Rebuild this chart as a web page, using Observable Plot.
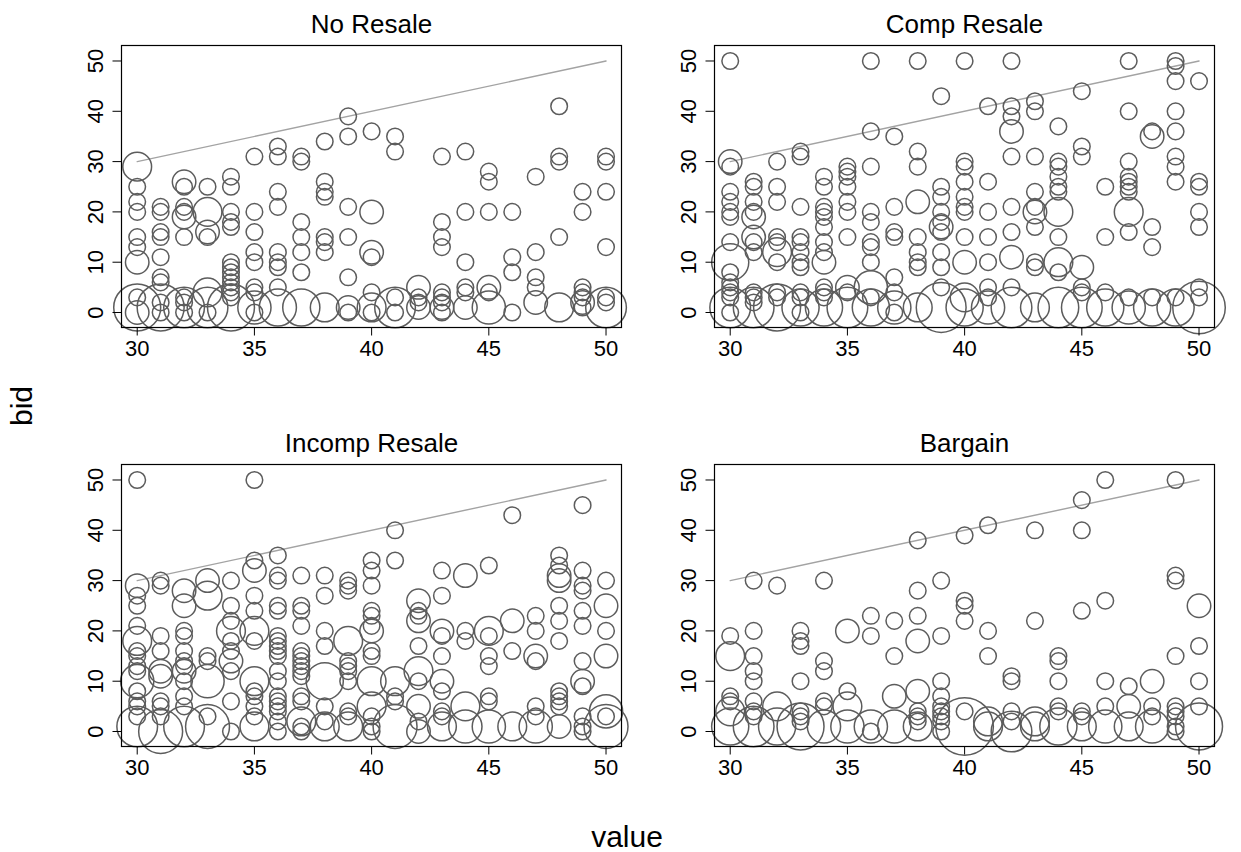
<!DOCTYPE html>
<html><head><meta charset="utf-8">
<script src="https://cdn.jsdelivr.net/npm/d3@7"></script>
<script src="https://cdn.jsdelivr.net/npm/@observablehq/plot@0.6"></script>
<style>
body{margin:0;background:#fff;}
#chart{position:relative;width:1241px;height:852px;overflow:hidden;font-family:"Liberation Sans",Arial,sans-serif;background:#fff;}
.panel{position:absolute;}
.lab{position:absolute;font-size:30px;line-height:1;white-space:nowrap;color:#000;}
</style></head><body><div id="chart"></div>
<script>
const panelTitles = ["No Resale", "Comp Resale", "Incomp Resale", "Bargain"];
const xTicks = [30, 35, 40, 45, 50];
const yTicks = [0, 10, 20, 30, 40, 50];
const refLine = [30, 50]; // bid = value diagonal
const xLabel = "value";
const yLabel = "bid";

// [value, bid, count]
const noResale = [
[30,29,3],[30,25,1],[30,22,1],[30,20,1],[30,15,1],[30,13,1],[30,10,2],[30,3,1],[30,1,8],[30,0,2],
[31,21,1],[31,20,1],[31,16,1],[31,15,1],[31,11,1],[31,7,1],[31,6,1],[31,2,1],[31,1,8],[31,0,1],
[32,26,2],[32,25,1],[32,21,1],[32,20,1],[32,19,2],[32,15,1],[32,3,1],[32,2,1],[32,1,6],[32,0,1],
[33,25,1],[33,20,3],[33,16,2],[33,15,1],[33,4,3],[33,1,6],[33,0,1],
[34,27,1],[34,25,1],[34,20,1],[34,18,1],[34,17,1],[34,10,1],[34,9,1],[34,8,1],[34,7,1],[34,6,1],[34,5,1],[34,4,1],[34,3,1],[34,1,8],
[35,31,1],[35,20,1],[35,16,1],[35,12,1],[35,10,1],[35,5,1],[35,4,1],[35,1,4],[35,0,1],
[36,33,1],[36,31,1],[36,24,1],[36,21,1],[36,12,1],[36,10,1],[36,9,1],[36,5,1],[36,1,5],
[37,31,1],[37,30,1],[37,18,1],[37,15,1],[37,12,1],[37,8,1],[37,1,5],
[38,34,1],[38,26,1],[38,24,1],[38,23,1],[38,15,1],[38,14,1],[38,12,1],[38,1,3],
[39,39,1],[39,35,1],[39,21,1],[39,15,1],[39,7,1],[39,1,2],[39,0,1],
[40,36,1],[40,20,2],[40,12,2],[40,11,1],[40,4,1],[40,1,3],[40,0,1],
[41,35,1],[41,32,1],[41,3,1],[41,1,6],[41,0,1],
[42,5,2],[42,3,1],[42,2,1],[42,1,2],
[43,31,1],[43,18,1],[43,15,1],[43,13,1],[43,4,1],[43,3,1],[43,2,1],[43,1,2],[43,0,1],
[44,32,1],[44,20,1],[44,10,1],[44,5,1],[44,4,1],[44,1,2],
[45,28,1],[45,26,1],[45,20,1],[45,5,2],[45,4,1],[45,1,4],
[46,20,1],[46,11,1],[46,8,1],[46,0,1],
[47,27,1],[47,12,1],[47,7,1],[47,5,1],[47,2,2],
[48,41,1],[48,31,1],[48,30,1],[48,15,1],[48,1,3],
[49,24,1],[49,20,1],[49,5,1],[49,4,1],[49,3,1],[49,2,2],[49,1,1],
[50,31,1],[50,30,1],[50,24,1],[50,13,1],[50,3,1],[50,2,1],[50,1,6]
];

const compResale = [
[30,50,1],[30,30,2],[30,29,1],[30,24,1],[30,22,1],[30,20,1],[30,19,1],[30,14,1],[30,10,5],[30,8,1],[30,6,1],[30,5,1],[30,4,1],[30,3,1],[30,1,6],[30,0,1],
[31,26,1],[31,25,1],[31,22,1],[31,20,1],[31,19,2],[31,15,2],[31,14,1],[31,12,1],[31,4,1],[31,3,1],[31,2,1],[31,1,6],
[32,30,1],[32,25,1],[32,22,1],[32,15,1],[32,14,1],[32,12,3],[32,10,1],[32,4,1],[32,3,1],[32,1,8],
[33,32,1],[33,31,1],[33,21,1],[33,15,1],[33,14,1],[33,12,1],[33,10,1],[33,9,1],[33,4,1],[33,3,1],[33,1,5],[33,0,1],
[34,27,1],[34,25,1],[34,21,1],[34,20,1],[34,19,1],[34,17,1],[34,14,1],[34,12,1],[34,10,2],[34,5,1],[34,4,1],[34,3,1],[34,1,5],
[35,29,1],[35,28,1],[35,27,1],[35,25,1],[35,22,1],[35,20,1],[35,15,1],[35,5,2],[35,4,1],[35,1,6],
[36,50,1],[36,36,1],[36,29,1],[36,20,1],[36,18,1],[36,14,1],[36,13,1],[36,10,1],[36,5,4],[36,3,1],[36,1,5],
[37,35,1],[37,21,1],[37,16,1],[37,15,1],[37,7,1],[37,4,1],[37,1,4],[37,0,1],
[38,50,1],[38,32,1],[38,29,1],[38,22,2],[38,15,1],[38,12,1],[38,10,1],[38,9,1],[38,1,3],
[39,43,1],[39,25,1],[39,23,1],[39,20,1],[39,18,1],[39,17,2],[39,16,1],[39,12,1],[39,9,1],[39,5,1],[39,1,9],
[40,50,1],[40,30,1],[40,29,1],[40,26,1],[40,23,1],[40,21,1],[40,20,1],[40,15,1],[40,10,2],[40,3,3],[40,1,5],
[41,41,1],[41,26,1],[41,20,1],[41,15,1],[41,10,1],[41,5,1],[41,3,1],[41,1,4],
[42,50,1],[42,41,1],[42,39,1],[42,36,2],[42,31,1],[42,21,1],[42,16,1],[42,11,2],[42,5,1],[42,1,6],
[43,42,1],[43,40,1],[43,31,1],[43,24,1],[43,21,1],[43,20,2],[43,17,1],[43,10,1],[43,9,1],[43,1,3],
[44,37,1],[44,30,1],[44,29,1],[44,27,1],[44,25,1],[44,24,1],[44,20,3],[44,15,1],[44,10,3],[44,8,1],[44,1,6],
[45,44,1],[45,33,1],[45,31,1],[45,9,2],[45,5,1],[45,4,1],[45,1,6],
[46,25,1],[46,15,1],[46,4,1],[46,1,5],
[47,50,1],[47,40,1],[47,30,1],[47,27,1],[47,26,1],[47,25,1],[47,24,1],[47,20,3],[47,16,1],[47,3,1],[47,1,4],
[48,36,1],[48,35,2],[48,17,1],[48,13,1],[48,3,1],[48,1,5],
[49,50,1],[49,49,1],[49,46,1],[49,40,1],[49,36,1],[49,31,1],[49,29,1],[49,26,1],[49,3,1],[49,1,5],
[50,46,1],[50,26,1],[50,25,1],[50,20,1],[50,17,1],[50,5,1],[50,3,1],[50,1,10]
];

const incompResale = [
[30,50,1],[30,29,2],[30,27,1],[30,25,1],[30,21,1],[30,18,3],[30,16,1],[30,15,1],[30,13,1],[30,12,1],[30,10,4],[30,8,1],[30,6,1],[30,5,1],[30,3,1],[30,1,6],
[31,30,1],[31,29,1],[31,19,1],[31,16,1],[31,12,2],[31,11,2],[31,6,1],[31,5,1],[31,3,1],[31,0,7],
[32,28,2],[32,25,2],[32,20,1],[32,19,1],[32,16,1],[32,14,1],[32,13,1],[32,12,2],[32,10,1],[32,7,1],[32,5,1],[32,1,6],
[33,30,2],[33,27,3],[33,15,1],[33,14,1],[33,10,4],[33,3,1],[33,1,7],
[34,30,1],[34,25,1],[34,22,1],[34,20,3],[34,18,1],[34,16,1],[34,14,2],[34,12,1],[34,6,1],[34,0,1],
[35,50,1],[35,34,1],[35,32,2],[35,27,1],[35,24,1],[35,20,3],[35,18,1],[35,10,3],[35,8,1],[35,7,1],[35,5,1],[35,3,1],[35,1,3],
[36,35,1],[36,31,1],[36,30,1],[36,25,1],[36,24,1],[36,19,1],[36,18,1],[36,17,1],[36,16,1],[36,15,1],[36,12,1],[36,10,1],[36,7,1],[36,6,1],[36,5,1],[36,4,1],[36,2,1],[36,0,1],
[37,31,1],[37,25,1],[37,24,1],[37,21,1],[37,16,1],[37,15,1],[37,14,1],[37,13,1],[37,12,1],[37,11,1],[37,7,1],[37,6,1],[37,2,3],[37,1,1],[37,0,1],
[38,31,1],[38,27,1],[38,20,1],[38,17,1],[38,10,5],[38,5,1],[38,2,1],[38,1,3],
[39,30,1],[39,29,1],[39,28,1],[39,18,3],[39,14,1],[39,13,1],[39,12,1],[39,10,1],[39,4,1],[39,3,1],[39,1,3],
[40,34,1],[40,32,1],[40,29,1],[40,24,1],[40,23,1],[40,21,1],[40,20,2],[40,16,1],[40,15,1],[40,10,3],[40,5,3],[40,3,1],[40,1,1],[40,0,1],
[41,40,1],[41,34,1],[41,10,3],[41,7,1],[41,6,1],[41,1,7],
[42,26,2],[42,24,1],[42,23,1],[42,22,2],[42,17,1],[42,12,3],[42,10,1],[42,5,2],[42,2,1],[42,0,2],
[43,32,1],[43,27,1],[43,20,2],[43,19,1],[43,15,1],[43,10,2],[43,8,1],[43,4,1],[43,3,1],[43,1,3],
[44,31,2],[44,20,1],[44,18,1],[44,5,3],[44,1,4],
[45,33,1],[45,20,3],[45,19,1],[45,15,1],[45,13,1],[45,7,1],[45,6,1],[45,1,4],
[46,43,1],[46,22,2],[46,16,1],[46,1,3],
[47,23,1],[47,20,1],[47,15,2],[47,14,1],[47,5,1],[47,3,1],[47,1,4],
[48,35,1],[48,33,1],[48,31,2],[48,30,2],[48,25,1],[48,22,1],[48,18,1],[48,8,1],[48,7,1],[48,6,1],[48,5,1],[48,1,2],
[49,45,1],[49,32,1],[49,29,1],[49,28,1],[49,24,1],[49,21,1],[49,14,1],[49,10,2],[49,9,1],[49,3,1],[49,1,1],[49,0,1],
[50,30,1],[50,25,2],[50,20,1],[50,15,2],[50,4,4],[50,3,1],[50,1,7]
];

const bargain = [
[30,19,1],[30,15,3],[30,7,1],[30,6,1],[30,4,3],[30,1,5],
[31,30,1],[31,20,1],[31,15,1],[31,12,1],[31,10,1],[31,6,1],[31,4,1],[31,3,1],[31,1,6],
[32,29,1],[32,5,3],[32,1,5],
[33,20,1],[33,18,1],[33,17,1],[33,10,1],[33,4,1],[33,3,1],[33,2,1],[33,1,8],
[34,30,1],[34,14,1],[34,12,1],[34,6,1],[34,5,1],[34,1,4],
[35,20,2],[35,8,1],[35,5,3],[35,1,4],
[36,23,1],[36,19,1],[36,1,4],[36,0,1],
[37,22,1],[37,15,1],[37,7,2],[37,1,4],
[38,38,1],[38,28,1],[38,23,1],[38,18,2],[38,8,2],[38,4,1],[38,3,1],[38,2,1],[38,1,3],
[39,30,1],[39,19,1],[39,10,1],[39,7,1],[39,5,1],[39,4,1],[39,3,1],[39,2,1],[39,0,1],
[40,39,1],[40,26,1],[40,25,1],[40,22,1],[40,4,1],[40,1,12],
[41,41,1],[41,20,1],[41,15,1],[41,2,3],[41,1,3],
[42,11,1],[42,10,1],[42,4,1],[42,2,1],[42,0,6],
[43,40,1],[43,22,1],[43,2,3],[43,1,3],
[44,15,1],[44,14,1],[44,10,1],[44,5,1],[44,4,1],[44,1,5],
[45,46,1],[45,40,1],[45,24,1],[45,4,1],[45,3,1],[45,1,3],
[46,50,1],[46,26,1],[46,10,1],[46,5,1],[46,1,4],
[47,9,1],[47,5,2],[47,1,3],
[48,10,2],[48,5,1],[48,3,1],[48,1,4],
[49,50,1],[49,31,1],[49,30,1],[49,15,1],[49,5,1],[49,4,1],[49,3,1],[49,1,1],[49,0,1],
[50,25,2],[50,17,1],[50,10,1],[50,5,1],[50,1,8]
];

const panelData = [noResale, compResale, incompResale, bargain];

// layout (px)
const W = 600, H = 400, ML = 80, MR = 20, MT = 45, MB = 73;
const panelPos = [[41, 0], [634, 0], [41, 419], [634, 419]];

function makePanel(data, title) {
  return Plot.plot({
    width: W, height: H,
    marginLeft: ML, marginRight: MR, marginTop: MT, marginBottom: MB,
    style: {fontFamily: '"Liberation Sans", Arial, sans-serif', background: "transparent", overflow: "visible"},
    x: {domain: [29.33, 50.66], label: null},
    y: {domain: [-2.98, 53.08], label: null},
    r: {type: "sqrt", domain: [0, 1], range: [0, 8.3]},
    marks: [
      Plot.line(refLine, {x: d => d, y: d => d, stroke: "#a3a3a3", strokeWidth: 1.4}),
      Plot.dot(data, {x: d => d[0], y: d => d[1], r: d => d[2], stroke: "#5c5c5c", strokeWidth: 1.5, fill: "none"}),
      Plot.frame({stroke: "#000", strokeWidth: 1.2}),
      Plot.axisX({ticks: xTicks, tickSize: 8.5, tickPadding: 4, fontSize: 22, label: null, stroke: "#000", color: "#000"}),
      Plot.axisY({ticks: yTicks, tickSize: 8.5, tickPadding: 10, tickRotate: -90, fontSize: 22, label: null, stroke: "#000", color: "#000"}),
      Plot.text([title], {text: d => d, frameAnchor: "top", dy: -13, lineAnchor: "bottom", fontSize: 26, fill: "#000"})
    ]
  });
}

const chart = document.getElementById("chart");
panelData.forEach((data, i) => {
  const svg = makePanel(data, panelTitles[i]);
  svg.classList.add("panel");
  svg.style.left = panelPos[i][0] + "px";
  svg.style.top = panelPos[i][1] + "px";
  chart.appendChild(svg);
});

const xl = document.createElement("div");
xl.className = "lab";
xl.textContent = xLabel;
xl.style.left = "627px";
xl.style.top = "822px";
xl.style.transform = "translateX(-50%)";
chart.appendChild(xl);

const yl = document.createElement("div");
yl.className = "lab";
yl.textContent = yLabel;
yl.style.left = "22px";
yl.style.top = "406px";
yl.style.transform = "translate(-50%,-50%) rotate(-90deg)";
chart.appendChild(yl);
</script>
</body></html>
